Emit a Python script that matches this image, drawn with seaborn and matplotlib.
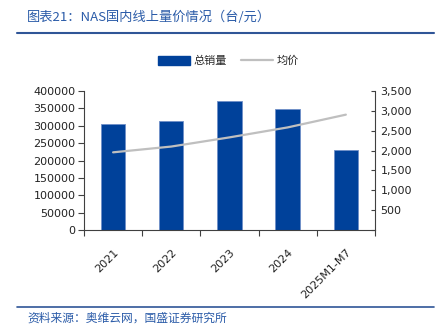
import matplotlib
matplotlib.use("Agg")
import matplotlib.pyplot as plt
import matplotlib.ticker as mticker
from matplotlib.patches import Patch
from matplotlib.lines import Line2D
import seaborn as sns
import pandas as pd

categories = ["2021", "2022", "2023", "2024", "2025M1-M7"]
sales = [305000, 312000, 370000, 347000, 231000]
avg_price = [1955, 2100, 2330, 2580, 2900]

title = "图表21：NAS国内线上量价情况（台/元）"
source = "资料来源：奥维云网，国盛证券研究所"
legend_labels = ["总销量", "均价"]

sns.set_theme(style="white")
plt.rcParams["font.family"] = ["Noto Sans CJK SC", "DejaVu Sans"]

BLUE = "#00419A"
GRAY = "#BFBFBF"
TXT_BLUE = "#2A5BA8"

df = pd.DataFrame({"cat": categories, "sales": sales, "price": avg_price})

fig = plt.figure(figsize=(4.37, 3.36), dpi=100)
ax = fig.add_axes([0.1922, 0.3146, 0.858 - 0.1922, 0.730 - 0.3146])

sns.barplot(data=df, x="cat", y="sales", color=BLUE, width=0.42, ax=ax,
            saturation=1, edgecolor="#6f8fc8", linewidth=0.6)
ax.set_xlim(-0.5, 4.5)
ax.set_ylim(0, 400000)
ax.yaxis.set_major_locator(mticker.MultipleLocator(50000))
ax.set_xlabel("")
ax.set_ylabel("")

ax2 = ax.twinx()
sns.lineplot(x=list(range(len(categories))), y=avg_price, color=GRAY, linewidth=1.6, ax=ax2)
ax2.set_ylim(0, 3500)
ax2.yaxis.set_major_locator(mticker.MultipleLocator(500))
ax2.yaxis.set_major_formatter(mticker.FuncFormatter(lambda v, p: "" if v == 0 else f"{int(v):,}"))
ax.set_xlim(-0.5, 4.5)

for a in (ax, ax2):
    a.spines["top"].set_visible(False)
    for s in ("left", "right", "bottom"):
        a.spines[s].set_color("#404040")
        a.spines[s].set_linewidth(0.8)
ax.spines["right"].set_visible(False)
ax2.spines["left"].set_visible(False)
ax2.spines["bottom"].set_visible(False)

ax.tick_params(axis="y", which="both", left=True, length=4, width=0.8, color="#404040",
               labelsize=8, labelcolor="#222222", pad=2)
ax2.tick_params(axis="y", right=True, direction="in", length=3, width=0.8, color="#404040",
                labelsize=8, labelcolor="#222222", pad=4)
for lab in ax.get_yticklabels() + ax2.get_yticklabels():
    lab.set_family("DejaVu Sans")

ax.set_xticks([0, 1, 2, 3, 4])
ax.set_xticklabels(categories, rotation=45, ha="right", rotation_mode="anchor",
                   fontsize=8, color="#222222", family="DejaVu Sans")
ax.tick_params(axis="x", bottom=False, pad=6)
ax.set_xticks([-0.5, 0.5, 1.5, 2.5, 3.5, 4.5], minor=True)
ax.tick_params(axis="x", which="minor", bottom=True, length=4, width=0.8, color="#404040")

handles = [Patch(facecolor=BLUE, edgecolor=BLUE),
           Line2D([0], [0], color=GRAY, linewidth=1.6)]
fig.legend(handles, legend_labels, loc="center", bbox_to_anchor=(0.522, 0.818), ncol=2,
           frameon=False, fontsize=8, handlelength=2.9, handleheight=0.8,
           columnspacing=1.3, handletextpad=0.3)

fig.text(0.062, 0.948, title, fontsize=9.5, color=TXT_BLUE, style="italic",
         ha="left", va="center")
fig.add_artist(Line2D([0.04, 0.992], [0.903, 0.903], transform=fig.transFigure,
                      color="#2F5597", linewidth=1.5))
fig.add_artist(Line2D([0.04, 0.992], [0.086, 0.086], transform=fig.transFigure,
                      color="#2F5597", linewidth=1.2))
fig.text(0.062, 0.052, source, fontsize=8.5, color=TXT_BLUE, style="italic",
         ha="left", va="center")

fig.savefig("out.png", dpi=100)
